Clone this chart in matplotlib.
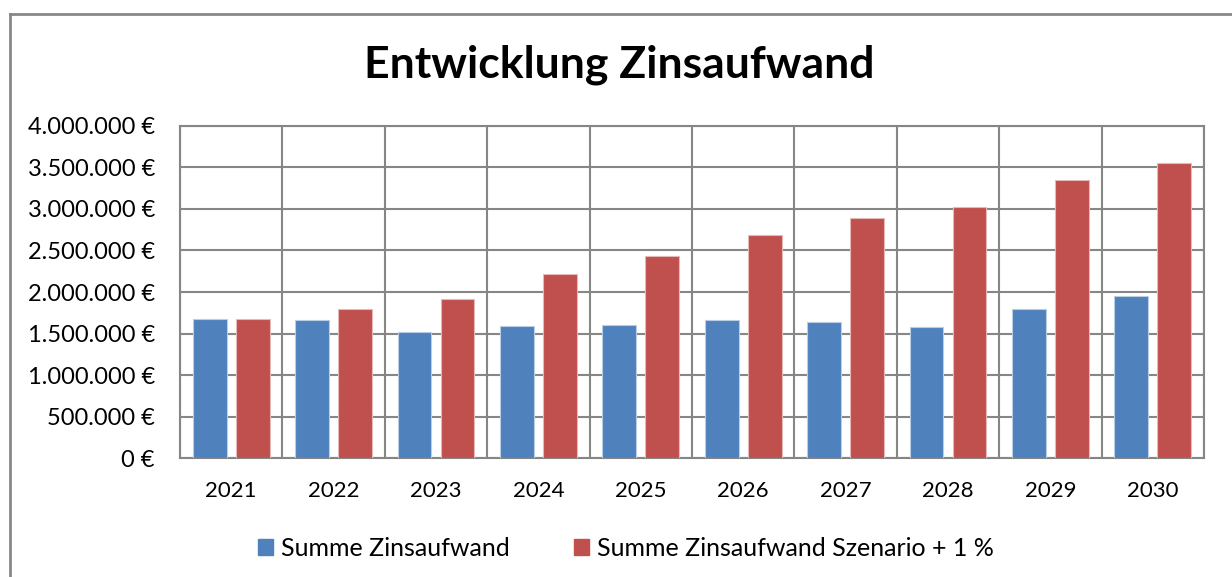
import numpy as np
import matplotlib.pyplot as plt
from matplotlib.lines import Line2D
from matplotlib.patches import Patch
from matplotlib.ticker import FuncFormatter

# ---------------- data ----------------
years = ["2021", "2022", "2023", "2024", "2025", "2026", "2027", "2028", "2029", "2030"]
zins_basis = [1675000, 1667000, 1522000, 1587000, 1607000, 1663000, 1635000, 1575000, 1799000, 1948000]
zins_szenario = [1675000, 1800000, 1916000, 2220000, 2436000, 2685000, 2886000, 3022000, 3347000, 3547000]

label_basis = "Summe Zinsaufwand"
label_szenario = "Summe Zinsaufwand Szenario + 1 %"

BLUE = "#4F81BD"
RED = "#C0504D"
GRID = "#868686"

plt.rcParams["font.family"] = ["Lato", "DejaVu Sans"]

fig = plt.figure(figsize=(12.32, 5.77), dpi=100)
ax = fig.add_axes([0.1461, 0.2057, 0.8312, 0.5764])

x = np.arange(len(years))
w = 0.33
off = 0.21

ax.bar(x - off, zins_basis, width=w, color=BLUE, edgecolor="#B9CDE5", linewidth=0.8, zorder=3)
ax.bar(x + off, zins_szenario, width=w, color=RED, edgecolor="#E6B9B8", linewidth=0.8, zorder=3)

ax.set_xlim(-0.5, len(years) - 0.5)
ax.set_ylim(0, 4000000)
ax.set_yticks(np.arange(0, 4000001, 500000))


def euro(v, pos):
    return f"{int(v):,} €".replace(",", ".")


ax.yaxis.set_major_formatter(FuncFormatter(euro))
ax.set_xticks(x)
ax.set_xticklabels(years)

# grid: horizontal on values, vertical on category boundaries
ax.set_xticks(np.arange(-0.5, len(years)), minor=True)
ax.grid(axis="y", which="major", color=GRID, linewidth=1.5, zorder=0)
ax.grid(axis="x", which="minor", color=GRID, linewidth=1.5, zorder=0)
ax.tick_params(axis="y", which="both", length=0, labelsize=17, pad=18)
ax.tick_params(axis="x", which="both", length=0, labelsize=16, pad=16)
for s in ax.spines.values():
    s.set_color(GRID)
    s.set_linewidth(1.5)

fig.text(0.503, 1 - 65 / 577, "Entwicklung Zinsaufwand", fontsize=32, fontweight="bold",
         ha="center", va="center")

handles = [Patch(color=BLUE, label=label_basis), Patch(color=RED, label=label_szenario)]
fig.legend(handles=handles, loc="center", bbox_to_anchor=(0.508, 1 - 548 / 577), ncol=2,
           frameon=False, fontsize=18, handlelength=0.6, handleheight=0.6,
           handletextpad=0.3, columnspacing=2.6)

# outer chart frame (left and top edges visible)
fig.add_artist(Line2D([10 / 1232, 10 / 1232], [0, 1 - 14 / 577], color="#888888", linewidth=2,
                      transform=fig.transFigure))
fig.add_artist(Line2D([10 / 1232, 1], [1 - 14 / 577, 1 - 14 / 577], color="#888888", linewidth=2,
                      transform=fig.transFigure))

fig.savefig("out.png", dpi=100)
